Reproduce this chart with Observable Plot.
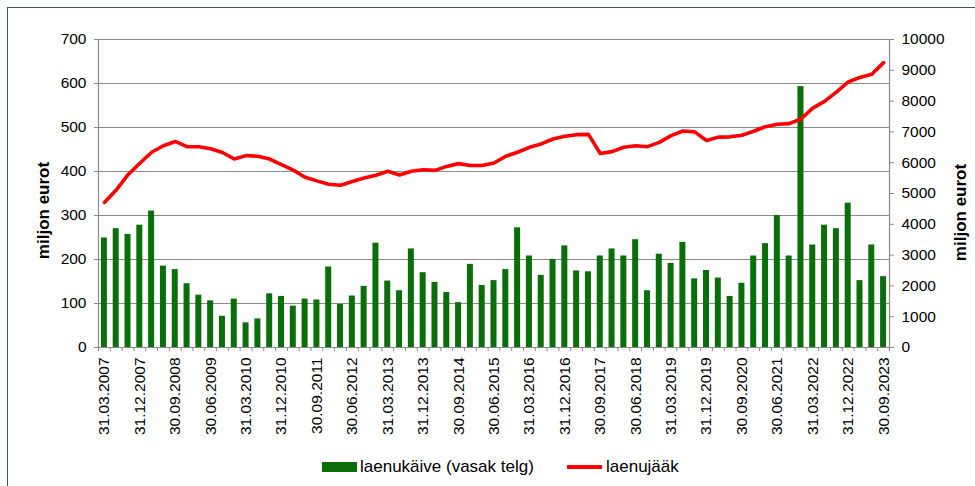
<!DOCTYPE html>
<html><head><meta charset="utf-8">
<script src="https://cdn.jsdelivr.net/npm/d3@7"></script>
<script src="https://cdn.jsdelivr.net/npm/@observablehq/plot@0.6"></script>
<style>
body{margin:0;background:#fff;font-family:"Liberation Sans",Arial,sans-serif;}
#wrap{position:relative;width:975px;height:486px;overflow:hidden;background:#fff;}
#frame{position:absolute;left:7px;top:7px;width:1000px;height:1000px;border-left:1.5px solid #2f5f49;border-top:1.5px solid #2f5f49;pointer-events:none;}
#legend{position:absolute;top:445px;left:0;width:975px;height:41px;font-size:17px;color:#000;}
.sw{position:absolute;}
.lt{position:absolute;top:11px;line-height:22px;white-space:nowrap;}
</style></head><body>
<div id="wrap"><div id="chart"></div>
<div id="legend">
  <div class="sw" style="left:322px;top:17px;width:35px;height:10px;background:#0a6e0a"></div>
  <div class="lt" id="l1" style="left:360px"></div>
  <div class="sw" style="left:567px;top:20px;width:35px;height:4px;background:#ff0000"></div>
  <div class="lt" id="l2" style="left:606px"></div>
</div>
<div id="frame"></div></div>
<script>
const dates = [
"31.03.2007","30.06.2007","30.09.2007","31.12.2007",
"31.03.2008","30.06.2008","30.09.2008","31.12.2008",
"31.03.2009","30.06.2009","30.09.2009","31.12.2009",
"31.03.2010","30.06.2010","30.09.2010","31.12.2010",
"31.03.2011","30.06.2011","30.09.2011","31.12.2011",
"31.03.2012","30.06.2012","30.09.2012","31.12.2012",
"31.03.2013","30.06.2013","30.09.2013","31.12.2013",
"31.03.2014","30.06.2014","30.09.2014","31.12.2014",
"31.03.2015","30.06.2015","30.09.2015","31.12.2015",
"31.03.2016","30.06.2016","30.09.2016","31.12.2016",
"31.03.2017","30.06.2017","30.09.2017","31.12.2017",
"31.03.2018","30.06.2018","30.09.2018","31.12.2018",
"31.03.2019","30.06.2019","30.09.2019","31.12.2019",
"31.03.2020","30.06.2020","30.09.2020","31.12.2020",
"31.03.2021","30.06.2021","30.09.2021","31.12.2021",
"31.03.2022","30.06.2022","30.09.2022","31.12.2022",
"31.03.2023","30.06.2023","30.09.2023"];

// laenukäive (left axis, million EUR)
const turnover = [
249,270,257,278,310,185,177,145,119,106,71,110,56,65,122,116,94,110,
108,183,98,117,139,237,151,129,224,170,148,125,102,189,141,152,177,272,
208,164,200,231,174,172,208,224,208,245,129,212,191,239,156,175,158,116,
146,208,236,300,208,593,233,278,270,328,152,233,161];

// laenujääk (right axis, million EUR)
const balance = [
4710,5110,5610,5980,6340,6550,6690,6520,6520,6450,6330,6120,6230,6210,6120,5935,5760,5530,
5410,5300,5270,5390,5500,5590,5720,5600,5720,5770,5750,5880,5970,5910,5910,5990,6210,6340,
6500,6610,6770,6860,6910,6920,6300,6360,6500,6550,6520,6660,6880,7030,7000,6720,6830,6840,
6890,7020,7170,7250,7270,7420,7770,7990,8290,8620,8770,8870,9250];

const leftTicks = [0,100,200,300,400,500,600,700];
const rightTicks = [0,1000,2000,3000,4000,5000,6000,7000,8000,9000,10000];
const seriesNames = ["laenukäive (vasak telg)", "laenujääk"];
const axisTitle = "miljon eurot";

document.getElementById("l1").textContent = seriesNames[0];
document.getElementById("l2").textContent = seriesNames[1];

const k = 700 / 10000; // right axis -> left axis units
const rows = dates.map((d, i) => ({i, date: d, t: turnover[i], b: balance[i]}));
const boundaries = d3.range(dates.length + 1);
const labelPos = rows.filter(r => r.i % 3 === 0).map(r => r.i + 0.5);

const chart = Plot.plot({
  width: 975,
  height: 445,
  marginLeft: 98,
  marginRight: 86,
  marginTop: 39,
  marginBottom: 98,
  style: {fontFamily: "'Liberation Sans', Arial, sans-serif", fontSize: "15.5px", color: "#000", background: "#fff"},
  x: {type: "linear", domain: [0, dates.length], axis: null},
  y: {domain: [0, 700], axis: null},
  marks: [
    Plot.ruleY(leftTicks, {stroke: "#8a8a8a", strokeWidth: 1.2}),
    Plot.ruleX([0, dates.length], {stroke: "#8a8a8a", strokeWidth: 1.2}),
    Plot.rectY(rows, {x1: d => d.i, x2: d => d.i + 1, y: "t", insetLeft: 2.9, insetRight: 2.9, fill: "#0a6e0a"}),
    Plot.line(rows, {x: d => d.i + 0.5, y: d => d.b * k, stroke: "#ff0000", strokeWidth: 3.6, strokeLinejoin: "round", strokeLinecap: "round"}),
    Plot.axisY(leftTicks, {anchor: "left", tickSize: 4, tickPadding: 8, label: null, stroke: "#8a8a8a", fontSize: "15.5px"}),
    Plot.axisY(rightTicks.map(v => v * k), {anchor: "right", tickSize: 4, tickPadding: 8, label: null, stroke: "#8a8a8a", tickFormat: d => String(Math.round(d / k)), fontSize: "15.5px"}),
    Plot.axisX(boundaries, {anchor: "bottom", tickSize: 4, tickFormat: () => "", label: null, stroke: "#8a8a8a"}),
    Plot.axisX(labelPos, {anchor: "bottom", tickSize: 0, tickPadding: 10, tickRotate: -90, label: null, tickFormat: d => dates[Math.floor(d)], fontSize: "15.5px"}),
    Plot.text([axisTitle], {frameAnchor: "left", rotate: -90, dx: -55, dy: 17, textAnchor: "middle", lineAnchor: "middle", fontWeight: "bold", fontSize: 17}),
    Plot.text([axisTitle], {frameAnchor: "right", rotate: -90, dx: 71, dy: 19, textAnchor: "middle", lineAnchor: "middle", fontWeight: "bold", fontSize: 17})
  ]
});
document.getElementById("chart").appendChild(chart);
</script>
</body></html>
